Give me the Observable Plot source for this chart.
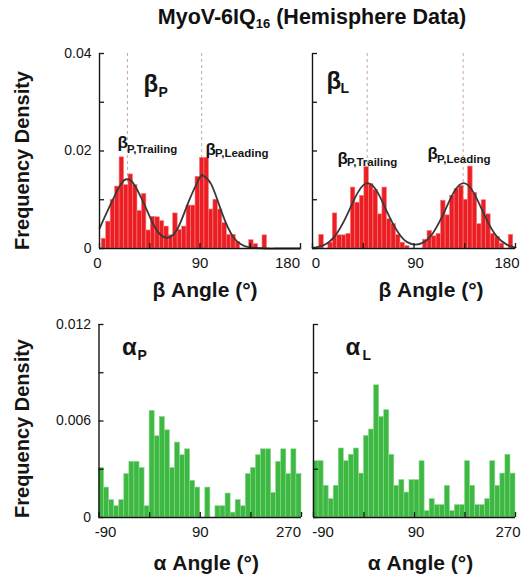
<!DOCTYPE html>
<html><head><meta charset="utf-8">
<script src="https://cdn.jsdelivr.net/npm/d3@7"></script>
<script src="https://cdn.jsdelivr.net/npm/@observablehq/plot@0.6"></script>
<style>
body{margin:0;background:#fff;font-family:"Liberation Sans",Arial,sans-serif;}
#chart{position:relative;width:523px;height:580px;overflow:hidden;background:#fff;}
#title{position:absolute;left:101px;top:5px;width:422px;text-align:center;font-weight:bold;font-size:21.5px;line-height:24px;color:#111;white-space:nowrap;}
#title sub{font-size:13px;vertical-align:-4px;line-height:0;}
.panel{position:absolute;}
</style></head><body>
<div id="chart"><div id="title">MyoV-6IQ<sub>16</sub> (Hemisphere Data)</div></div>
<script>
// ---------- data ----------
const betaBinCenters = [4,8,12,16,20,24,28,32,36,40,44,48,52,56,60,64,68,72,76,80,84,88,92,96,100,104,108,112,116,120,124,128,132,136,140,144,148,152,156,160,164,168,172,176];
const betaBinWidth = 4;
const betaPDensity = [0.0020,0.0055,0.0100,0.0127,0.0187,0.0130,0.0152,0.0130,0.0077,0.0112,0.0037,0.0065,0.0064,0.0056,0.0045,0.0027,0.0072,0.0038,0.0045,0.0088,0.0088,0.0147,0.0186,0.0186,0.0080,0.0100,0.0080,0.0052,0.0028,0.0028,0.0013,0,0,0.0017,0.0009,0,0.0027,0,0,0,0,0,0,0];
const betaLDensity = [0,0.0028,0,0.0012,0.0072,0.0027,0.0027,0.0030,0.0125,0.0094,0.0108,0.0167,0.0132,0.0120,0.0070,0.0125,0.0060,0.0050,0.0028,0.0012,0.0005,0,0,0,0.0018,0.0036,0.0025,0.0030,0.0098,0.0068,0.0108,0.0122,0.0128,0.0100,0.0168,0.0114,0.0050,0.0099,0.0070,0.0030,0.0024,0.0010,0,0.0028];

const alphaBinStarts = [-90,-81,-72,-63,-54,-45,-36,-27,-18,-9,0,9,18,27,36,45,54,63,72,81,90,99,108,117,126,135,144,153,162,171,180,189,198,207,216,225,234,243,252,261];
const alphaBinWidth = 9;
const alphaPDensity = [0.00308,0.00186,0.00108,0.0007,0.00108,0.0027,0.00346,0.00346,0.00308,0.0007,0.00663,0.00505,0.00625,0.00542,0.00308,0.00466,0.00387,0.00424,0.00228,0.00186,0,0.00186,0,0.0007,0.0007,0.00149,0.0003,0.00108,0.0007,0.0027,0.00308,0.00387,0.00424,0.00424,0.00153,0.00346,0.00424,0.0027,0.00424,0.0027];
const alphaLDensity = [0.0035,0.0035,0.00197,0.00114,0.00197,0.00429,0.0035,0.0039,0.00429,0.00273,0.00507,0.00547,0.00822,0.00625,0.00667,0.0039,0.00197,0.00232,0.00155,0.00232,0.00232,0.0035,0.0004,0.00114,0.00077,0.00077,0.00197,0.0004,0.00077,0.00077,0.0035,0.00197,0.00077,0.00077,0.00114,0.0035,0.00197,0.00273,0.0039,0.00273];

// fitted curves
const fitPAngle = [0,10,20,25,30,40,50,60,70,80,90,93,100,110,120,130,140,150,160,170,180];
const fitPDensity = [0.0041,0.0091,0.0135,0.0142,0.0135,0.0091,0.0042,0.0022,0.0041,0.0097,0.0146,0.0149,0.0132,0.0071,0.0023,0.0005,0.0001,0,0,0,0];
const fitLAngle = [0,10,20,30,40,49,58,68,78,84,90,97,105,115,125,134,143,153,163,173,180];
const fitLDensity = [0.0001,0.0007,0.0026,0.0066,0.0114,0.0134,0.0114,0.0066,0.0026,0.0013,0.0008,0.0011,0.0026,0.0066,0.0114,0.0134,0.0114,0.0066,0.0026,0.0007,0.0002];

// peak positions (dashed lines)
const peaksP = [25, 91.5];
const peaksL = [48.5, 133.6];

// ticks
const betaXTicks = [0,45,90,135,180];
const betaXLabels = [0,90,180];
const betaYTicks = [0,0.01,0.02,0.03,0.04];
const betaYLabels = [0,0.02,0.04];
const alphaXTicks = [-90,0,90,180,270];
const alphaXLabels = [-90,90,270];
const alphaYTicks = [0,0.003,0.006,0.009,0.012];
const alphaYLabels = [0,0.006,0.012];

const yTitle = "Frequency Density";
const betaTitle = "β Angle (°)";
const alphaTitle = "α Angle (°)";

// ---------- helpers ----------
const FONT = '"Liberation Sans", Arial, sans-serif';
const INK = "#151515";
const RED = "#ec1e24", RED_EDGE = "#f67c7c";
const GREEN = "#3db843", GREEN_EDGE = "#8ad88b";

function binsFrom(starts, width, values) {
  return starts.map((s, i) => ({x1: s, x2: s + width, y: values[i]})).filter(d => d.y > 0);
}
function centeredBins(centers, width, values) {
  return centers.map((c, i) => ({x1: c - width / 2, x2: c + width / 2, y: values[i]})).filter(d => d.y > 0);
}
function pts(xs, ys) { return xs.map((x, i) => ({x, y: ys[i]})); }

function panel(cfg) {
  const {left, top, width, height, margin, xDomain, yDomain, bars, fill, stroke,
    curve, peaks, xTicks, xLabels, xLabelDx, xLabelDy, yTicks, yLabels, labels, xTitle, xTitleDx, xTitleDy, yTitleDy} = cfg;
  const fw = width - margin.left - margin.right;
  const fh = height - margin.top - margin.bottom;
  const tlenY = 5 * (yDomain[1] - yDomain[0]) / fh;
  const tlenX = 5 * (xDomain[1] - xDomain[0]) / fw;
  const marks = [];
  if (peaks) marks.push(Plot.ruleX(peaks, {x: d => d, y1: yDomain[0], y2: yDomain[1], stroke: "#c7a7a2", strokeDasharray: "3,3", strokeWidth: 1}));
  marks.push(Plot.rect(bars, {x1: "x1", x2: "x2", y1: 0, y2: "y", fill, stroke, strokeWidth: 0.6}));
  if (curve) marks.push(Plot.line(curve, {x: "x", y: "y", curve: "natural", stroke: "#3a3a3a", strokeWidth: 1.8}));
  marks.push(Plot.ruleX([xDomain[0]], {x: d => d, stroke: INK, strokeWidth: 1.4}));
  marks.push(Plot.ruleY([yDomain[0]], {y: d => d, stroke: INK, strokeWidth: 1.4}));
  marks.push(Plot.ruleX(xTicks, {x: d => d, y1: yDomain[0], y2: yDomain[0] + tlenY, stroke: INK, strokeWidth: 1.3}));
  marks.push(Plot.ruleY(yTicks, {y: d => d, x1: xDomain[0], x2: xDomain[0] + tlenX, stroke: INK, strokeWidth: 1.3}));
  if (yLabels) marks.push(Plot.text(yLabels, {y: d => d, text: d => String(d), frameAnchor: "left", textAnchor: "end", dx: -8, fontSize: 14, fill: INK}));
  xLabels.forEach((v, i) => {
    marks.push(Plot.text([v], {x: d => d, text: d => String(d), frameAnchor: "bottom", textAnchor: "middle", dy: xLabelDy, dx: xLabelDx[i], fontSize: 15, fill: INK}));
  });
  marks.push(Plot.text([xTitle], {text: d => d, frameAnchor: "bottom", textAnchor: "middle", dy: xTitleDy, dx: xTitleDx, fontSize: 21, fontWeight: "bold", fill: INK}));
  if (yTitleDy !== undefined) marks.push(Plot.text([yTitle], {text: d => d, frameAnchor: "left", textAnchor: "middle", rotate: -90, dx: -(margin.left - 22), dy: yTitleDy, fontSize: 20, fontWeight: "bold", fill: INK}));
  labels.forEach(l => {
    marks.push(Plot.text([l.t], {text: d => d, frameAnchor: "top-left", textAnchor: "start", dx: l.dx, dy: l.dy, fontSize: l.size, fontWeight: "bold", fill: INK}));
  });
  const svg = Plot.plot({
    width, height,
    marginLeft: margin.left, marginRight: margin.right, marginTop: margin.top, marginBottom: margin.bottom,
    x: {domain: xDomain, axis: null},
    y: {domain: yDomain, axis: null},
    style: {fontFamily: FONT, background: "transparent", overflow: "visible", color: INK},
    marks
  });
  const div = document.createElement("div");
  div.className = "panel";
  div.style.left = left + "px";
  div.style.top = top + "px";
  div.appendChild(svg);
  document.getElementById("chart").appendChild(div);
}

// ---------- panels ----------
panel({
  left: 0, top: 40, width: 305, height: 265,
  margin: {left: 99, right: 5, top: 13, bottom: 57},
  xDomain: [0, 180], yDomain: [0, 0.04],
  bars: centeredBins(betaBinCenters, betaBinWidth, betaPDensity), fill: RED, stroke: RED_EDGE,
  curve: pts(fitPAngle, fitPDensity), peaks: peaksP,
  xTicks: betaXTicks, xLabels: betaXLabels, xLabelDx: [-2, 0, -13], xLabelDy: 19,
  yTicks: betaYTicks, yLabels: betaYLabels,
  xTitle: betaTitle, xTitleDx: 5, xTitleDy: 48, yTitleDy: 9.5,
  labels: [
    {t: "β", size: 24, dx: 44, dy: 21.6}, {t: "P", size: 14, dx: 59, dy: 33.5},
    {t: "β", size: 17, dx: 18, dy: 82.5}, {t: "P,Trailing", size: 11.5, dx: 27.5, dy: 91.5},
    {t: "β", size: 17, dx: 106, dy: 89.5}, {t: "P,Leading", size: 11.5, dx: 115.5, dy: 95}
  ]
});
panel({
  left: 305, top: 40, width: 218, height: 265,
  margin: {left: 7, right: 8, top: 13, bottom: 57},
  xDomain: [0, 180], yDomain: [0, 0.04],
  bars: centeredBins(betaBinCenters, betaBinWidth, betaLDensity), fill: RED, stroke: RED_EDGE,
  curve: pts(fitLAngle, fitLDensity), peaks: peaksL,
  xTicks: betaXTicks, xLabels: betaXLabels, xLabelDx: [3.5, 1.5, -8.5], xLabelDy: 19,
  yTicks: betaYTicks, yLabels: null,
  xTitle: betaTitle, xTitleDx: 17, xTitleDy: 48,
  labels: [
    {t: "β", size: 24, dx: 14, dy: 18}, {t: "L", size: 14, dx: 28, dy: 30},
    {t: "β", size: 17, dx: 25, dy: 98.5}, {t: "P,Trailing", size: 11.5, dx: 34.5, dy: 104.5},
    {t: "β", size: 17, dx: 115, dy: 93.5}, {t: "P,Leading", size: 11.5, dx: 124.5, dy: 101.5}
  ]
});
panel({
  left: 0, top: 300, width: 305, height: 280,
  margin: {left: 98.5, right: 4, top: 24, bottom: 63},
  xDomain: [-90, 270], yDomain: [0, 0.012],
  bars: binsFrom(alphaBinStarts, alphaBinWidth, alphaPDensity), fill: GREEN, stroke: GREEN_EDGE,
  xTicks: alphaXTicks, xLabels: alphaXLabels, xLabelDx: [6.5, 0, -13], xLabelDy: 19,
  yTicks: alphaYTicks, yLabels: alphaYLabels,
  xTitle: alphaTitle, xTitleDx: 6, xTitleDy: 52, yTitleDy: 7.5,
  labels: [
    {t: "α", size: 24, dx: 23, dy: 13.6}, {t: "P", size: 14, dx: 38.5, dy: 25.5}
  ]
});
panel({
  left: 305, top: 300, width: 218, height: 280,
  margin: {left: 8, right: 8, top: 24, bottom: 63},
  xDomain: [-90, 270], yDomain: [0, 0.012],
  bars: binsFrom(alphaBinStarts, alphaBinWidth, alphaLDensity), fill: GREEN, stroke: GREEN_EDGE,
  xTicks: alphaXTicks, xLabels: alphaXLabels, xLabelDx: [9.5, 1.5, -7.5], xLabelDy: 19,
  yTicks: alphaYTicks, yLabels: null,
  xTitle: alphaTitle, xTitleDx: 6, xTitleDy: 52,
  labels: [
    {t: "α", size: 24, dx: 32, dy: 13.6}, {t: "L", size: 14, dx: 49, dy: 25.5}
  ]
});
</script>
</body></html>
